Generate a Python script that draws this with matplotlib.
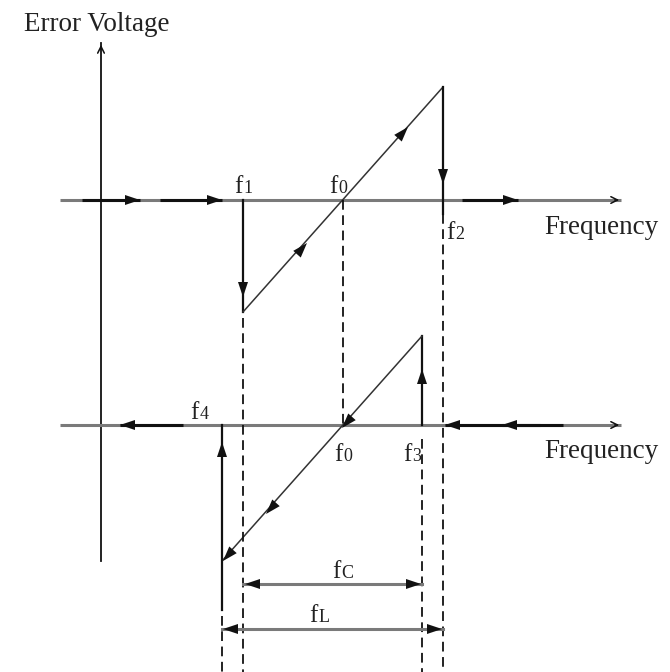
import matplotlib.pyplot as plt
import numpy as np
from matplotlib.patches import Polygon

plt.rcParams['font.family'] = ['Liberation Serif', 'DejaVu Serif']
plt.rcParams['lines.scale_dashes'] = False

# diagram positions (pixel-like units, y grows downward)
freq_x = {'f4': 222, 'f1': 243, 'f0': 343, 'f3': 422, 'f2': 443}
upper_axis_y = 200
lower_axis_y = 425
# error voltage at the sweep ends (relative to the axis, up is positive)
upper_v = [-112, 113]   # at f1, f2
lower_v = [89, -136]    # at f3, f4

yaxis_x = 101
yaxis_top, yaxis_bottom = 42, 561
axis_left, axis_right = 60, 622

# thick sweep segments on the axes: (start, end) - arrow drawn at end
upper_sweeps = [(82, 140), (160, 222), (462, 518)]
lower_sweeps = [(183, 120), (563, 445), (540, 502)]

AX_GRAY = '#7a7a7a'
DARK = '#111111'
TXT = '#222222'


def head(ax, tip, direction, length=15, width=10, color=DARK):
    d = np.array(direction, float)
    d = d / np.hypot(*d)
    n = np.array([-d[1], d[0]])
    tip = np.array(tip, float)
    base = tip - d * length
    pts = [tip, base + n * width / 2, base - n * width / 2]
    ax.add_patch(Polygon(pts, closed=True, color=color, lw=0, zorder=5))


def flabel(ax, x, y, sub, size=18, subsize=13):
    ax.text(x, y, 'f', fontsize=size, ha='right', va='baseline', color=TXT)
    ax.text(x + 0.5, y, sub, fontsize=subsize, ha='left', va='baseline', color=TXT)


fig = plt.figure(figsize=(6.7, 6.72), dpi=100)
ax = fig.add_axes([0, 0, 1, 1])
ax.set_xlim(0, 670)
ax.set_ylim(672, 0)
ax.axis('off')

# vertical axis
ax.plot([yaxis_x, yaxis_x], [yaxis_bottom, yaxis_top + 1], color=DARK, lw=1.3)
ax.annotate('', xy=(yaxis_x, yaxis_top), xytext=(yaxis_x, yaxis_top + 10),
            arrowprops=dict(arrowstyle='->', color=DARK, lw=1.1, mutation_scale=12))
ax.text(24, 31, 'Error Voltage', fontsize=19.5, ha='left', va='baseline', color=TXT)

# horizontal axes
for ay in (upper_axis_y, lower_axis_y):
    ax.plot([axis_left, axis_right - 1], [ay, ay], color=AX_GRAY, lw=2.2, solid_capstyle='butt')
    ax.annotate('', xy=(axis_right, ay), xytext=(axis_right - 10, ay),
                arrowprops=dict(arrowstyle='->', color=DARK, lw=1.1, mutation_scale=12))
ax.text(544, 234, 'Frequency', fontsize=19.5, ha='left', va='baseline', color=TXT)
ax.text(544, 458, 'Frequency', fontsize=19.5, ha='left', va='baseline', color=TXT)

for sweeps, ay in ((upper_sweeps, upper_axis_y), (lower_sweeps, lower_axis_y)):
    for x0, x1 in sweeps:
        ax.plot([x0, x1], [ay, ay], color=DARK, lw=2.2, solid_capstyle='butt')
        head(ax, (x1, ay), (x1 - x0, 0))

# upper sweep (increasing frequency)
y_f1 = upper_axis_y - upper_v[0]
y_f2 = upper_axis_y - upper_v[1]
ax.plot([freq_x['f1'], freq_x['f1']], [upper_axis_y, y_f1], color=DARK, lw=1.6)
head(ax, (freq_x['f1'], 297), (0, 1))
ax.plot([freq_x['f1'], freq_x['f2']], [y_f1, y_f2], color='#333333', lw=1.1)
head(ax, (307, 243), (1, -1.12))
head(ax, (408, 127), (1, -1.12))
ax.plot([freq_x['f2'], freq_x['f2']], [y_f2, upper_axis_y + 14], color=DARK, lw=1.6)
head(ax, (freq_x['f2'], 184), (0, 1))

# lower sweep (decreasing frequency)
y_f3 = lower_axis_y - lower_v[0]
y_f4 = lower_axis_y - lower_v[1]
ax.plot([freq_x['f3'], freq_x['f3']], [lower_axis_y, y_f3], color=DARK, lw=1.6)
head(ax, (freq_x['f3'], 369), (0, -1))
ax.plot([freq_x['f3'], freq_x['f4']], [y_f3, y_f4], color='#333333', lw=1.1)
head(ax, (342, 428), (-1, 1.12))
head(ax, (266, 514), (-1, 1.12))
head(ax, (freq_x['f4'] + 1, y_f4), (-1, 1.12))
ax.plot([freq_x['f4'], freq_x['f4']], [610, lower_axis_y], color=DARK, lw=1.6)
head(ax, (freq_x['f4'], 442), (0, -1))

# dashed guide lines
dash = dict(color=DARK, lw=1.3, dashes=(7, 4))
ax.plot([freq_x['f0'], freq_x['f0']], [upper_axis_y, lower_axis_y], **dash)
ax.plot([freq_x['f1'], freq_x['f1']], [y_f1 + 6, 672], **dash)
ax.plot([freq_x['f2'], freq_x['f2']], [upper_axis_y + 14, 672], **dash)
ax.plot([freq_x['f3'], freq_x['f3']], [lower_axis_y + 14, 672], **dash)
ax.plot([freq_x['f4'], freq_x['f4']], [616, 672], **dash)

# capture / lock range
fc_y, fl_y = 584, 629
ax.plot([freq_x['f1'], freq_x['f3']], [fc_y, fc_y], color=AX_GRAY, lw=2.2)
head(ax, (freq_x['f1'] + 2, fc_y), (-1, 0))
head(ax, (freq_x['f3'] - 1, fc_y), (1, 0))
ax.plot([freq_x['f4'], freq_x['f2']], [fl_y, fl_y], color=AX_GRAY, lw=2.2)
head(ax, (freq_x['f4'] + 1, fl_y), (-1, 0))
head(ax, (freq_x['f2'] - 1, fl_y), (1, 0))

# labels
flabel(ax, 243, 193, '1')
flabel(ax, 338, 193, '0')
flabel(ax, 455, 239, '2')
flabel(ax, 199, 419, '4')
flabel(ax, 343, 461, '0')
flabel(ax, 412, 461, '3')
flabel(ax, 341, 578, 'C')
flabel(ax, 318, 622, 'L')

fig.savefig('out.png', dpi=100)
